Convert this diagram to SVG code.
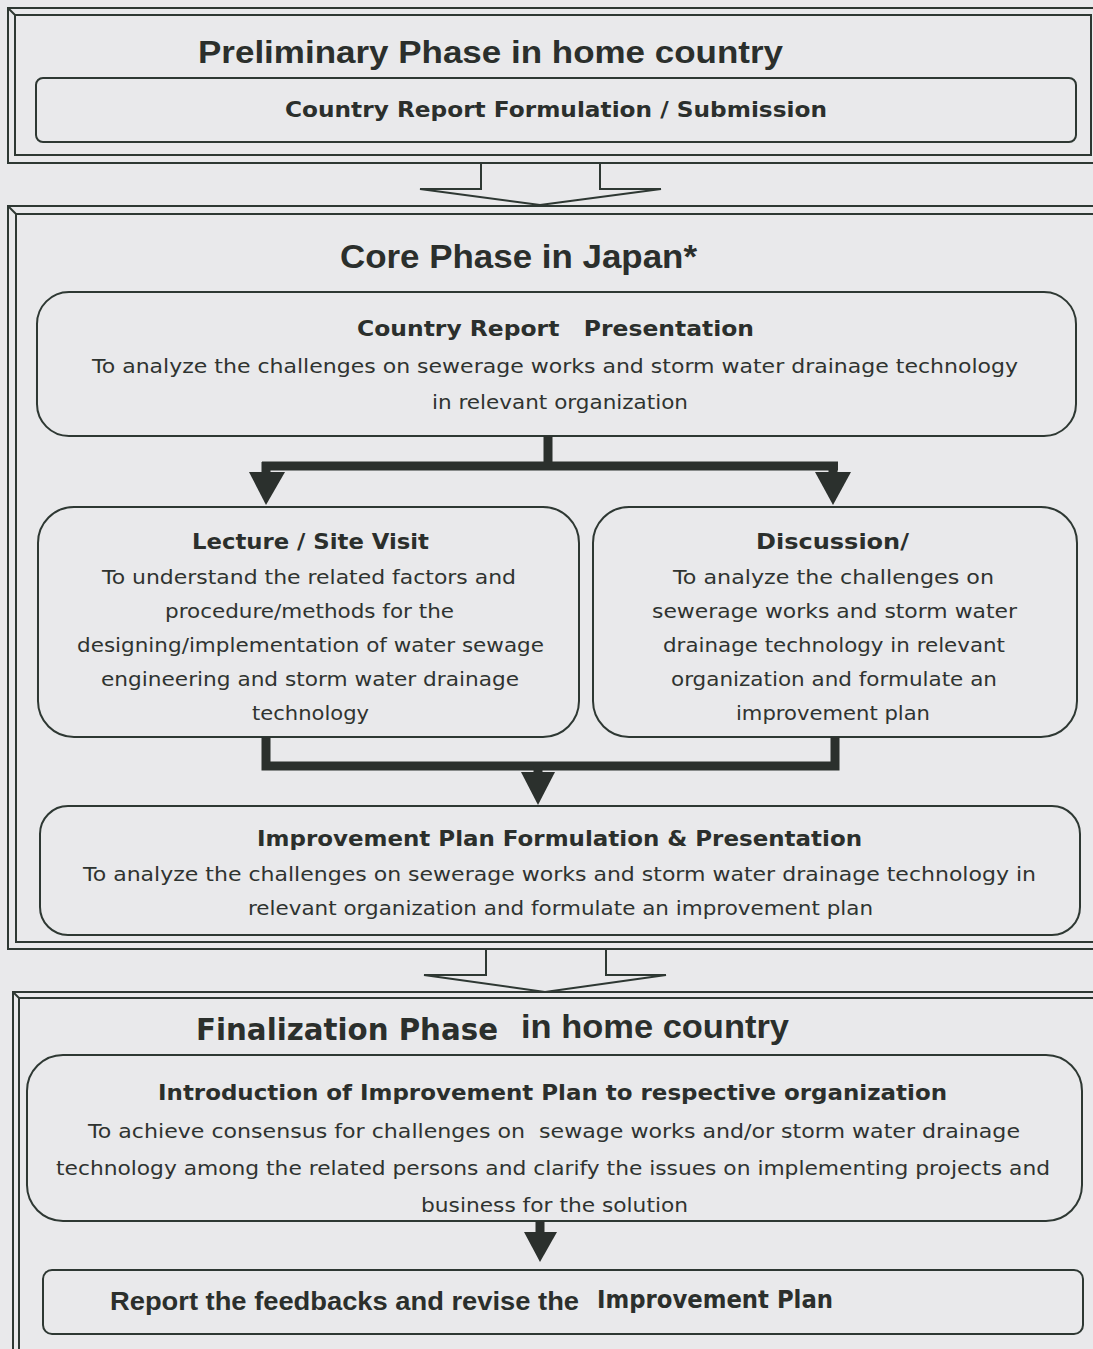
<svg xmlns="http://www.w3.org/2000/svg" width="1093" height="1349" viewBox="0 0 1093 1349">
  <style>
    .bg { fill: #e9e9eb; }
    .frame { fill: none; stroke: #2e3833; stroke-width: 2; }
    .box { fill: none; stroke: #2e3833; stroke-width: 2; }
    .flow { fill: none; stroke: #2b302d; stroke-width: 9; stroke-linejoin: miter; }
    .head { fill: #2b302d; }
    .title { font-family: "Liberation Sans", Arial, sans-serif; font-weight: bold; fill: #2b2f2c; }
    .head-b { font-family: "DejaVu Sans", Verdana, sans-serif; font-weight: bold; fill: #2b2f2c; font-size: 22px; }
    .body { font-family: "DejaVu Sans", Verdana, sans-serif; fill: #2f3330; font-size: 20px; }
  </style>

  <rect class="bg" x="0" y="0" width="1093" height="1349"/>

  <!-- Preliminary phase -->
  <g id="phase-preliminary">
    <rect class="frame" x="8" y="8" width="1100" height="155"/>
    <rect class="frame" x="15" y="15" width="1076" height="140"/>
    <line class="frame" x1="8" y1="8" x2="15" y2="15"/>
    <text class="title" x="198" y="63" style="font-size:31px" textLength="585" lengthAdjust="spacingAndGlyphs">Preliminary Phase in home country</text>
  </g>
  <g id="node-country-report-formulation">
    <rect class="box" x="36" y="78" width="1040" height="64" rx="7"/>
    <text class="head-b" x="285" y="117" textLength="542" lengthAdjust="spacingAndGlyphs">Country Report Formulation / Submission</text>
  </g>

  <!-- Core phase -->
  <g id="phase-core">
    <rect class="frame" x="8" y="206" width="1100" height="743"/>
    <rect class="frame" x="16" y="214" width="1090" height="728"/>
    <line class="frame" x1="8" y1="206" x2="16" y2="214"/>
    <text class="title" x="340" y="268" style="font-size:33px" textLength="357" lengthAdjust="spacingAndGlyphs">Core Phase in Japan*</text>
  </g>
  <g id="node-country-report-presentation">
    <rect class="box" x="37" y="292" width="1039" height="144" rx="32"/>
    <text class="head-b" x="357" y="336" textLength="397" lengthAdjust="spacingAndGlyphs" xml:space="preserve">Country Report   Presentation</text>
    <text class="body" x="92" y="373" textLength="926" lengthAdjust="spacingAndGlyphs">To analyze the challenges on sewerage works and storm water drainage technology</text>
    <text class="body" x="432" y="409" textLength="256" lengthAdjust="spacingAndGlyphs">in relevant organization</text>
  </g>
  <g id="node-lecture">
    <rect class="box" x="38" y="507" width="541" height="230" rx="36"/>
    <text class="head-b" x="192" y="549" textLength="237" lengthAdjust="spacingAndGlyphs">Lecture / Site Visit</text>
    <text class="body" x="102" y="584" textLength="414" lengthAdjust="spacingAndGlyphs">To understand the related factors and</text>
    <text class="body" x="165" y="618" textLength="289" lengthAdjust="spacingAndGlyphs">procedure/methods for the</text>
    <text class="body" x="77" y="652" textLength="467" lengthAdjust="spacingAndGlyphs">designing/implementation of water sewage</text>
    <text class="body" x="101" y="686" textLength="418" lengthAdjust="spacingAndGlyphs">engineering and storm water drainage</text>
    <text class="body" x="252" y="720" textLength="117" lengthAdjust="spacingAndGlyphs">technology</text>
  </g>
  <g id="node-discussion">
    <rect class="box" x="593" y="507" width="484" height="230" rx="36"/>
    <text class="head-b" x="756" y="549" textLength="153" lengthAdjust="spacingAndGlyphs">Discussion/</text>
    <text class="body" x="673" y="584" textLength="321" lengthAdjust="spacingAndGlyphs">To analyze the challenges on</text>
    <text class="body" x="652" y="618" textLength="365" lengthAdjust="spacingAndGlyphs">sewerage works and storm water</text>
    <text class="body" x="663" y="652" textLength="342" lengthAdjust="spacingAndGlyphs">drainage technology in relevant</text>
    <text class="body" x="671" y="686" textLength="326" lengthAdjust="spacingAndGlyphs">organization and formulate an</text>
    <text class="body" x="736" y="720" textLength="194" lengthAdjust="spacingAndGlyphs">improvement plan</text>
  </g>
  <g id="node-improvement-plan">
    <rect class="box" x="40" y="806" width="1040" height="129" rx="28"/>
    <text class="head-b" x="257" y="846" textLength="605" lengthAdjust="spacingAndGlyphs">Improvement Plan Formulation &amp; Presentation</text>
    <text class="body" x="83" y="881" textLength="953" lengthAdjust="spacingAndGlyphs">To analyze the challenges on sewerage works and storm water drainage technology in</text>
    <text class="body" x="248" y="915" textLength="625" lengthAdjust="spacingAndGlyphs">relevant organization and formulate an improvement plan</text>
  </g>

  <!-- Finalization phase -->
  <g id="phase-finalization">
    <rect class="frame" x="13" y="992" width="1100" height="400"/>
    <rect class="frame" x="19" y="998" width="1090" height="400"/>
    <line class="frame" x1="13" y1="992" x2="19" y2="998"/>
    <text class="head-b" x="196" y="1040" style="font-size:30px" textLength="302" lengthAdjust="spacingAndGlyphs">Finalization Phase</text>
    <text class="title" x="521" y="1038" style="font-size:33px" textLength="268" lengthAdjust="spacingAndGlyphs">in home country</text>
  </g>
  <g id="node-introduction">
    <rect class="box" x="27" y="1055" width="1055" height="166" rx="36"/>
    <text class="head-b" x="158" y="1100" textLength="789" lengthAdjust="spacingAndGlyphs">Introduction of Improvement Plan to respective organization</text>
    <text class="body" x="88" y="1138" textLength="932" lengthAdjust="spacingAndGlyphs" xml:space="preserve">To achieve consensus for challenges on  sewage works and/or storm water drainage</text>
    <text class="body" x="56" y="1175" textLength="994" lengthAdjust="spacingAndGlyphs">technology among the related persons and clarify the issues on implementing projects and</text>
    <text class="body" x="421" y="1212" textLength="267" lengthAdjust="spacingAndGlyphs">business for the solution</text>
  </g>
  <g id="node-report-feedback">
    <rect class="box" x="43" y="1270" width="1040" height="64" rx="9"/>
    <text class="title" x="110" y="1310" style="font-size:26px" textLength="469" lengthAdjust="spacingAndGlyphs">Report the feedbacks and revise the</text>
    <text class="head-b" x="597" y="1308" style="font-size:24px" textLength="236" lengthAdjust="spacingAndGlyphs">Improvement Plan</text>
  </g>

  <!-- Connectors -->
  <g id="connectors">
    <!-- block arrows between phases -->
    <path class="frame" d="M481,163 V189 H420 L540,205 L661,189 H600 V163"/>
    <path class="frame" d="M486,949 V975 H424 L545,992 L666,975 H606 V949"/>

    <!-- split: presentation to lecture and discussion -->
    <path class="flow" d="M548,436 V466 M262,466 H838 M266,462 V474 M833,462 V474"/>
    <polygon class="head" points="249,472 285,472 266,505"/>
    <polygon class="head" points="815,472 851,472 833,505"/>

    <!-- merge: lecture and discussion to improvement plan -->
    <path class="flow" d="M266,737 V766 H835 V737"/>
    <path class="flow" d="M538,766 V774"/>
    <polygon class="head" points="521,772 555,772 538,805"/>

    <!-- introduction to report -->
    <path class="flow" d="M540,1221 V1234"/>
    <polygon class="head" points="524,1232 557,1232 540,1262"/>
  </g>
</svg>
